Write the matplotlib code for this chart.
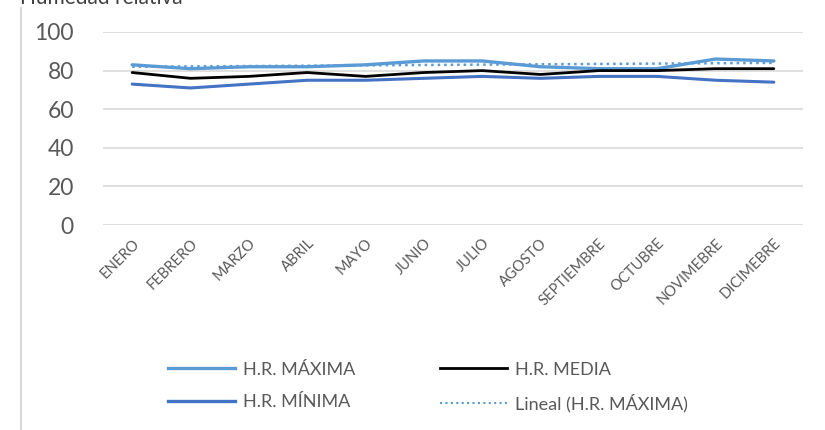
import numpy as np
import matplotlib
matplotlib.use('Agg')
import matplotlib.pyplot as plt
from matplotlib.lines import Line2D

plt.rcParams['font.family'] = ['Lato', 'DejaVu Sans']

meses = ['ENERO', 'FEBRERO', 'MARZO', 'ABRIL', 'MAYO', 'JUNIO', 'JULIO',
         'AGOSTO', 'SEPTIEMBRE', 'OCTUBRE', 'NOVIMEBRE', 'DICIMEBRE']
hr_maxima = [83, 81, 82, 82, 83, 85, 85, 82, 81, 81, 86, 85]
hr_media  = [79, 76, 77, 79, 77, 79, 80, 78, 80, 80, 81, 81]
hr_minima = [73, 71, 73, 75, 75, 76, 77, 76, 77, 77, 75, 74]
y_ticks = [0, 20, 40, 60, 80, 100]

x = np.arange(len(meses))
# Excel linear trendline of H.R. MÁXIMA
coef = np.polyfit(x, hr_maxima, 1)
tendencia = np.polyval(coef, x)

fig = plt.figure(figsize=(8.25, 4.3), dpi=100)
ax = fig.add_axes([103/825, 1 - 225/430, 700/825, 193/430])

c_max = '#5B9BD5'
c_min = '#4472C4'

ax.plot(x, hr_maxima, color=c_max, lw=2.4, solid_capstyle='round')
ax.plot(x, hr_media, color='black', lw=2.0, solid_capstyle='round')
ax.plot(x, hr_minima, color=c_min, lw=2.2, solid_capstyle='round')
ax.plot(x, tendencia, color=c_max, lw=1.8, linestyle=(0, (1, 1.6)))

ax.set_xlim(-0.5, len(meses) - 0.5)
ax.set_ylim(0, 100)
ax.set_yticks(y_ticks)
ax.set_xticks(x)
ax.set_xticklabels(meses, rotation=45, ha='right', rotation_mode='anchor',
                   fontsize=10.5, color='#595959')
ax.tick_params(axis='x', length=0, pad=8)
ax.tick_params(axis='y', length=0, pad=21, labelsize=16.5, labelcolor='#595959')
ax.grid(axis='y', color='#D9D9D9', lw=1.2)
ax.set_axisbelow(True)
for s in ax.spines.values():
    s.set_visible(False)

handles = [
    Line2D([], [], color=c_max, lw=2.4),
    Line2D([], [], color=c_min, lw=2.4),
    Line2D([], [], color='black', lw=2.0),
    Line2D([], [], color=c_max, lw=1.5, linestyle=(0, (1, 1.6))),
]
labels = ['H.R. MÁXIMA', 'H.R. MÍNIMA', 'H.R. MEDIA', 'Lineal (H.R. MÁXIMA)']
fig.legend(handles, labels, ncol=2, loc='center left',
           bbox_to_anchor=(152/825, 1 - 387/430), frameon=False,
           fontsize=13, labelcolor='#595959', handlelength=3.7,
           handletextpad=0.45, columnspacing=4.7, labelspacing=0.9)

# chart border on the left and cropped title
fig.add_artist(Line2D([21/825, 21/825], [0, 1 - 8/430], color='#D9D9D9', lw=1.5))
fig.text(20/825, 1 - 4/430, 'Humedad relativa', fontsize=15, color='#404040',
         va='baseline', ha='left')

fig.savefig('out.png', dpi=100)
